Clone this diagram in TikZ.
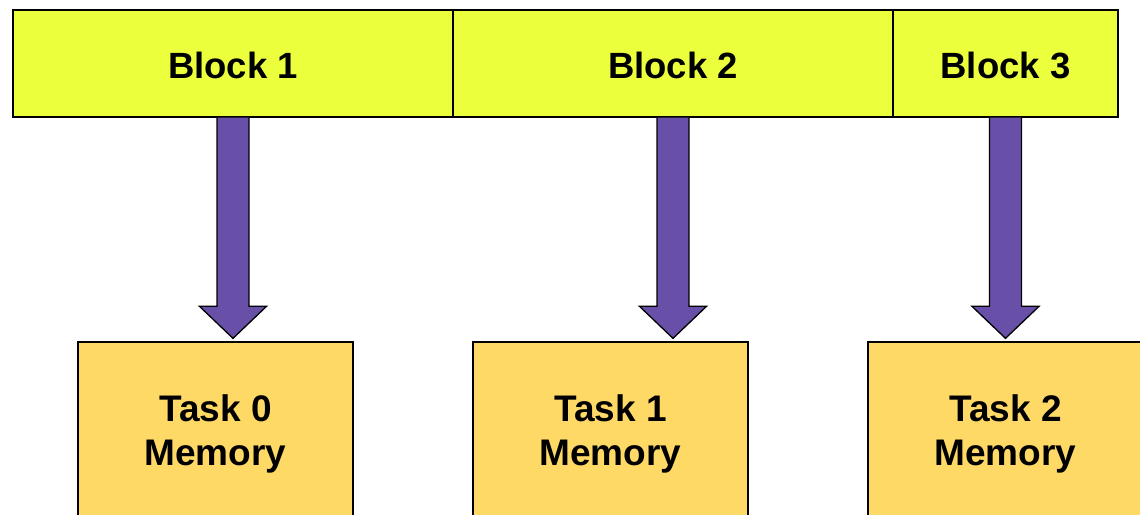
\documentclass[tikz,border=0pt]{standalone}
\usepackage{fontspec}
\setmainfont{Liberation Sans}
\usetikzlibrary{calc}
\definecolor{blockyellow}{RGB}{236,255,60}
\definecolor{taskgold}{RGB}{255,217,102}
\definecolor{flowpurple}{RGB}{104,80,168}
\tikzset{
  blockbox/.style={draw=black, line width=1.3pt, fill=blockyellow,
    minimum height=107pt, inner sep=0pt, text height=30pt, text depth=0pt,
    font=\fontsize{36.5}{44}\selectfont\bfseries},
  taskbox/.style={draw=black, line width=1.3pt, fill=taskgold,
    minimum width=275pt, minimum height=184pt, inner sep=0pt, align=center,
    font=\fontsize{37}{44}\selectfont\bfseries},
  fatarrow/.style={draw=black, line width=1.3pt, fill=flowpurple, line join=miter}
}
% block arrow from the bottom of a block node down to a tip coordinate
\newcommand\flowarrow[2]{%
  \draw[fatarrow] ($(#1.south)+(-16,0)$) -- ($(#2)+(-16,32)$) -- ($(#2)+(-33.5,32)$)
    -- (#2) -- ($(#2)+(33.5,32)$) -- ($(#2)+(16,32)$) -- ($(#1.south)+(16,0)$);}
\begin{document}
\begin{tikzpicture}[x=1pt,y=1pt]
\useasboundingbox (0,0) rectangle (1140,514);
\clip (0,0) rectangle (1140,514);
% memory boxes
\node[taskbox] (t0) at (215.5,80) {Task 0\\Memory};
\node[taskbox] (t1) at (610.5,80) {Task 1\\Memory};
\node[taskbox] (t2) at (1005.5,80) {Task 2\\Memory};
% block bar
\node[blockbox, minimum width=440pt] (b1) at (233,450.5) {Block 1};
\node[blockbox, minimum width=440pt] (b2) at (673,450.5) {Block 2};
\node[blockbox, minimum width=225pt] (b3) at (1005.5,450.5) {Block 3};
% arrows
\coordinate (tip1) at ($(b1.south |- t0.north)+(0,3)$);
\coordinate (tip2) at ($(b2.south |- t1.north)+(0,3)$);
\coordinate (tip3) at ($(b3.south |- t2.north)+(0,3)$);
\flowarrow{b1}{tip1}
\flowarrow{b2}{tip2}
\flowarrow{b3}{tip3}
\end{tikzpicture}
\end{document}
